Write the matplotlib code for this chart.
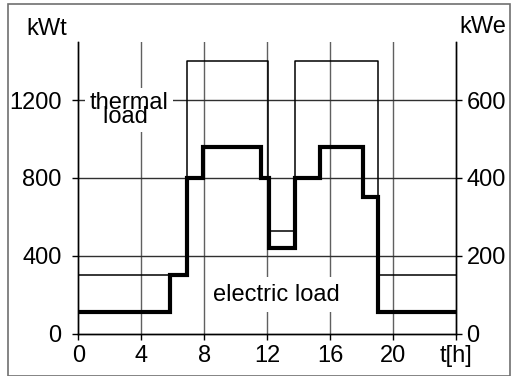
import matplotlib
matplotlib.use('Agg')
import matplotlib.pyplot as plt
from matplotlib.patches import Rectangle

plt.rcParams['font.family'] = ['Liberation Sans', 'DejaVu Sans']

# step edges (hours) and levels
t_thermal = [0, 6.9, 12.05, 13.75, 19.05, 24]
thermal_kwt = [300, 1400, 530, 1400, 300, 300]

t_electric = [0, 5.85, 6.9, 7.9, 11.6, 12.1, 13.75, 15.35, 18.1, 19.05, 24]
electric_kwe = [55, 150, 400, 480, 400, 220, 400, 480, 350, 55, 55]

x_ticks = [0, 4, 8, 12, 16, 20, 24]
x_labels = ['0', '4', '8', '12', '16', '20', 't[h]']
left_ticks = [0, 400, 800, 1200]
right_ticks = [0, 200, 400, 600]

W, H = 511, 376
FS = 17
fig = plt.figure(figsize=(W / 100, H / 100), dpi=100)
ax = fig.add_axes([78.3 / W, 1 - 333.7 / H, (456 - 78.3) / W, (333.7 - 41.7) / H])
ax2 = ax.twinx()

ax.set_xlim(0, 24)
ax.set_ylim(0, 1500)
ax2.set_ylim(0, 750)

for x in x_ticks[1:-1]:
    ax.axvline(x, color='#606060', lw=1.0, zorder=0)
for y in left_ticks[1:]:
    ax.axhline(y, color='#303030', lw=1.0, zorder=0)

ax.step(t_thermal, thermal_kwt, where='post', color='black', lw=1.1)
ax2.step(t_electric, electric_kwe, where='post', color='black', lw=3.0,
         solid_joinstyle='miter')

ax.set_xticks(x_ticks)
ax.set_xticklabels(x_labels)
ax.set_yticks(left_ticks)
ax2.set_yticks(right_ticks)
for a in (ax, ax2):
    a.tick_params(direction='out', length=4, width=1, labelsize=FS)
    for s in a.spines.values():
        s.set_linewidth(1.0)
    a.spines['top'].set_visible(False)
ax.tick_params(axis='x', pad=4)
ax.tick_params(axis='y', pad=8)
ax2.tick_params(axis='y', pad=3.5)

fig.text(46.5 / W, 1 - 35 / H, 'kWt', ha='center', va='baseline', fontsize=FS)
fig.text(483 / W, 1 - 33 / H, 'kWe', ha='center', va='baseline', fontsize=FS)

ax2.text(3.22, 574, 'thermal\nload ', ha='center', va='center',
         multialignment='center', linespacing=0.5, fontsize=FS,
         bbox=dict(facecolor='white', edgecolor='none', pad=3))
ax2.text(12.56, 85, 'electric load', ha='center', va='baseline', fontsize=FS,
         bbox=dict(facecolor='white', edgecolor='none', pad=5))

fig.patches.append(Rectangle((7.5 / W, 0.5 / H), (510 - 7.5) / W, (371.5) / H,
                             transform=fig.transFigure, fill=False,
                             edgecolor='#707070', lw=1.2))

fig.savefig('out.png', dpi=100)
